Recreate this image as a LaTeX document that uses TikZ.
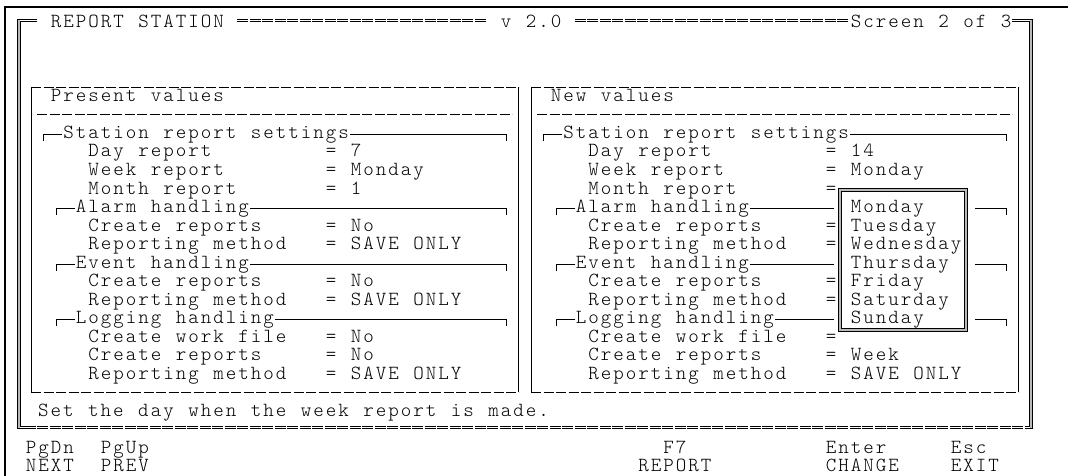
\documentclass[tikz,border=0pt]{standalone}
\newdimen\chw \chw=12.5pt
\ExplSyntaxOn
\NewDocumentCommand \scrtxt { m }
  { \str_map_inline:nn {#1} { \hbox_to_wd:nn { \chw } { \hss ##1 \hss } } }
\ExplSyntaxOff
\newcommand\scrfont{\fontsize{20}{20}\fontseries{l}\ttfamily}
\newcommand\colx[1]{12.25+12.5*#1}
\newcommand\colc[1]{18.5+12.5*#1}
\newcommand\basey[1]{27.5+18.5*#1}
\newcommand\liney[1]{23.5+18.5*#1}
\newcommand\tx[4]{\node[txt] (#1) at ({\colx{#2}},{\basey{#3}}) {\scrtxt{#4}};}
% #1 corner col, #2 text col, #3 row
\newcommand\hopen[3]{\draw[sl] ({\colc{#1}},{\liney{#3}+6.5}) -- ({\colc{#1}},{\liney{#3}}) -- ({\colx{#2}},{\liney{#3}});}
% #1 start col, #2 corner col, #3 row
\newcommand\hclose[3]{\draw[sl] ({\colx{#1}},{\liney{#3}}) -- ({\colc{#2}},{\liney{#3}}) -- ({\colc{#2}},{\liney{#3}+6.5});}
% double horizontal run of box characters: x1, x2, y
\newcommand\dblH[3]{\draw[dbl,chars] ({#1},{#3-1.35}) -- ({#2},{#3-1.35});\draw[dbl,chars] ({#1},{#3+1.35}) -- ({#2},{#3+1.35});}
\begin{document}
\begin{tikzpicture}[x=1pt,y=-1pt,
  every node/.style={inner sep=0pt,outer sep=0pt},
  txt/.style={anchor=base west,font=\scrfont},
  sl/.style={line width=0.8pt},
  dl/.style={line width=0.8pt,dash pattern=on 10pt off 2.5pt},
  dbl/.style={line width=0.7pt},
  chars/.style={dash pattern=on 11pt off 1.5pt},
  band/.style={fill=gray!55},
  frameedge/.style={line width=2pt}]
\useasboundingbox (0,0) rectangle (1068,476);
% outer window edge
\draw[frameedge] (4,7) -- (1068,7);
\draw[frameedge] (5,7) -- (5,476);
% double frame: grey bands of the side lines
\fill[band] ({\colc{0}-1.35},18.95) rectangle ({\colc{0}+1.35},428.65);
\fill[band] ({\colc{81}-1.35},18.95) rectangle ({\colc{81}+1.35},428.65);
% left side with its corners
\draw[dbl] ({\colx{2}},18.95) -- ({\colc{0}-1.35},18.95) -- ({\colc{0}-1.35},428.65) -- ({\colx{1}},428.65);
\draw[dbl] ({\colx{2}},21.65) -- ({\colc{0}+1.35},21.65) -- ({\colc{0}+1.35},425.95) -- ({\colx{1}},425.95);
% right side with its corners
\draw[dbl] ({\colx{80}},18.95) -- ({\colc{81}+1.35},18.95) -- ({\colc{81}+1.35},428.65) -- ({\colx{81}},428.65);
\draw[dbl] ({\colx{80}},21.65) -- ({\colc{81}-1.35},21.65) -- ({\colc{81}-1.35},425.95) -- ({\colx{81}},425.95);
\dblH{\colx{18}}{\colx{38}}{20.3}
\dblH{\colx{45}}{\colx{67}}{20.3}
\dblH{\colx{1}}{\colx{81}}{427.3}
\tx{title}{3}{0}{REPORT STATION}
\tx{ver}{39}{0}{v 2.0}
\tx{scr}{67}{0}{Screen 2 of 3}
% inner boxes
\draw[sl] ({\colc{1}},87.5) -- ({\colc{1}},392);
\draw[sl] ({\colc{40}},87.5) -- ({\colc{40}},392);
\draw[dl] ({\colc{1}},87.5) -- ({\colc{40}},87.5);
\draw[dl] ({\colx{2}},114) -- ({\colx{40}},114);
\draw[dl] ({\colc{1}},392) -- ({\colc{40}},392);
\draw[sl] ({\colc{41}},87.5) -- ({\colc{41}},392);
\draw[sl] ({\colc{80}},87.5) -- ({\colc{80}},392);
\draw[dl] ({\colc{41}},87.5) -- ({\colc{80}},87.5);
\draw[dl] ({\colx{42}},114) -- ({\colx{80}},114);
\draw[dl] ({\colc{41}},392) -- ({\colc{80}},392);
% left panel
\tx{pv}{3}{4}{Present values}
\hopen{2}{4}{6}\tx{lsrs}{4}{6}{Station report settings}\hclose{27}{39}{6}
\tx{lday}{6}{7}{Day report}\tx{ldayv}{25}{7}{= 7}
\tx{lweek}{6}{8}{Week report}\tx{lweekv}{25}{8}{= Monday}
\tx{lmon}{6}{9}{Month report}\tx{lmonv}{25}{9}{= 1}
\hopen{3}{5}{10}\tx{lalarm}{5}{10}{Alarm handling}\hclose{19}{39}{10}
\tx{lacr}{6}{11}{Create reports}\tx{lacrv}{25}{11}{= No}
\tx{larm}{6}{12}{Reporting method}\tx{larmv}{25}{12}{= SAVE ONLY}
\hopen{3}{5}{13}\tx{levent}{5}{13}{Event handling}\hclose{19}{39}{13}
\tx{lecr}{6}{14}{Create reports}\tx{lecrv}{25}{14}{= No}
\tx{lerm}{6}{15}{Reporting method}\tx{lermv}{25}{15}{= SAVE ONLY}
\hopen{3}{5}{16}\tx{llog}{5}{16}{Logging handling}\hclose{21}{39}{16}
\tx{llwf}{6}{17}{Create work file}\tx{llwfv}{25}{17}{= No}
\tx{llcr}{6}{18}{Create reports}\tx{llcrv}{25}{18}{= No}
\tx{llrm}{6}{19}{Reporting method}\tx{llrmv}{25}{19}{= SAVE ONLY}
% right panel
\tx{nv}{43}{4}{New values}
\hopen{42}{44}{6}\tx{rsrs}{44}{6}{Station report settings}\hclose{67}{79}{6}
\tx{rday}{46}{7}{Day report}\tx{rdayv}{65}{7}{= 14}
\tx{rweek}{46}{8}{Week report}\tx{rweekv}{65}{8}{= Monday}
\tx{rmon}{46}{9}{Month report}\tx{rmonv}{65}{9}{=}
\hopen{43}{45}{10}\tx{ralarm}{45}{10}{Alarm handling}
\draw[sl] ({\colx{59}},{\liney{10}}) -- (834,{\liney{10}});\hclose{77}{79}{10}
\tx{racr}{46}{11}{Create reports}\tx{racrv}{65}{11}{=}
\tx{rarm}{46}{12}{Reporting method}\tx{rarmv}{65}{12}{=}
\hopen{43}{45}{13}\tx{revent}{45}{13}{Event handling}
\draw[sl] ({\colx{59}},{\liney{13}}) -- (834,{\liney{13}});\hclose{77}{79}{13}
\tx{recr}{46}{14}{Create reports}\tx{recrv}{65}{14}{=}
\tx{rerm}{46}{15}{Reporting method}\tx{rermv}{65}{15}{=}
\hopen{43}{45}{16}\tx{rlog}{45}{16}{Logging handling}
\draw[sl] ({\colx{61}},{\liney{16}}) -- (834,{\liney{16}});\hclose{77}{79}{16}
\tx{rlwf}{46}{17}{Create work file}\tx{rlwfv}{65}{17}{=}
\tx{rlcr}{46}{18}{Create reports}\tx{rlcrv}{65}{18}{= Week}
\tx{rlrm}{46}{19}{Reporting method}\tx{rlrmv}{65}{19}{= SAVE ONLY}
% popup list
\fill[white] (838.65,188.15) rectangle (966.85,331.35);
\fill[band,even odd rule] (838.65,188.15) rectangle (966.85,331.35) (841.35,190.85) rectangle (964.15,328.65);
\draw[dbl] (838.65,188.15) rectangle (966.85,331.35);
\draw[dbl] (841.35,190.85) rectangle (964.15,328.65);
\tx{d1}{67}{10}{Monday}
\tx{d2}{67}{11}{Tuesday}
\tx{d3}{67}{12}{Wednesday}
\tx{d4}{67}{13}{Thursday}
\tx{d5}{67}{14}{Friday}
\tx{d6}{67}{15}{Saturday}
\tx{d7}{67}{16}{Sunday}
% message and keys
\tx{msg}{2}{21}{Set the day when the week report is made.}
\tx{k1}{1}{23}{PgDn}\tx{k1b}{1}{24}{NEXT}
\tx{k2}{7}{23}{PgUp}\tx{k2b}{7}{24}{PREV}
\tx{k3}{52}{23}{F7}\tx{k3b}{50}{24}{REPORT}
\tx{k4}{65}{23}{Enter}\tx{k4b}{65}{24}{CHANGE}
\tx{k5}{75}{23}{Esc}\tx{k5b}{75}{24}{EXIT}
\end{tikzpicture}
\end{document}
